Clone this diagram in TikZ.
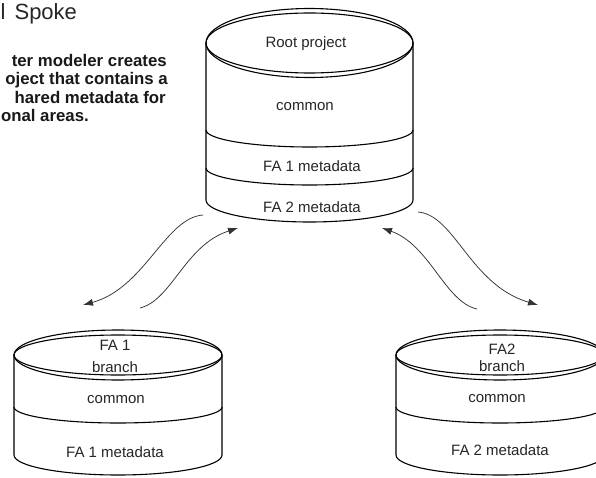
\documentclass[tikz,border=0pt]{standalone}
\usepackage{fontspec}
\setmainfont{Liberation Sans}
\usetikzlibrary{arrows.meta}
\begin{document}
\begin{tikzpicture}[x=1pt,y=-1pt,
  cyl/.style={line width=1.1pt, black},
  lbl/.style={font=\fontsize{15}{16}\selectfont, inner sep=0pt, text=black!85},
  arr/.style={line width=0.75pt, black!80, -{Latex[length=10pt,width=7pt]}},
  body/.style={font=\bfseries\fontsize{16.8}{19}\selectfont, inner sep=0pt, anchor=base east, text=black!90},
  title/.style={font=\fontsize{22}{24}\selectfont, inner sep=0pt, anchor=base west, text=black!85}
]
\useasboundingbox (0,0) rectangle (596,478);
\fill[white] (0,0) rectangle (596,478);

% ---- left text block ----
\node[title] (ttl) at (0.5,20) {l\hspace{9pt}Spoke};
\node[body] (l1) at (167,67) {ter modeler creates};
\node[body] (l2) at (168,85) {oject that contains a};
\node[body] (l3) at (166,103.5) {hared metadata for};
\node[body] (l4) at (89,122) {onal areas.};

% ---- root cylinder ----
\draw[cyl] (309.5,43) ellipse [x radius=103.5, y radius=34.5];
\draw[cyl] (309.5,43) ellipse [x radius=103.5, y radius=30];
\draw[cyl] (206,43) -- (206,200) arc[start angle=180, end angle=0, x radius=103.5, y radius=22] -- (413,43);
\draw[cyl] (206,130) arc[start angle=180, end angle=0, x radius=103.5, y radius=17];
\draw[cyl] (206,168) arc[start angle=180, end angle=0, x radius=103.5, y radius=17];
\node[lbl] (rootlbl) at (306,44) {Root project};
\node[lbl] (rootcommon) at (305,107) {common};
\node[lbl] (rootfa1) at (312,166) {FA 1 metadata};
\node[lbl] (rootfa2) at (312,207) {FA 2 metadata};

% ---- FA 1 branch cylinder ----
\draw[cyl] (118,355) ellipse [x radius=104, y radius=25];
\draw[cyl] (118,355) ellipse [x radius=104, y radius=20];
\draw[cyl] (14,355) -- (14,455) arc[start angle=180, end angle=0, x radius=104, y radius=20] -- (222,355);
\draw[cyl] (14,407) arc[start angle=180, end angle=0, x radius=104, y radius=16];
\node[lbl] (b1a) at (115,345) {FA 1};
\node[lbl] (b1b) at (115,367) {branch};
\node[lbl] (b1c) at (116,400) {common};
\node[lbl] (b1d) at (115,452) {FA 1 metadata};

% ---- FA 2 branch cylinder ----
\draw[cyl] (500,355) ellipse [x radius=104, y radius=25];
\draw[cyl] (500,355) ellipse [x radius=104, y radius=20];
\draw[cyl] (396,355) -- (396,455) arc[start angle=180, end angle=0, x radius=104, y radius=20] -- (604,355);
\draw[cyl] (396,407) arc[start angle=180, end angle=0, x radius=104, y radius=16];
\node[lbl] (b2a) at (502,349) {FA2};
\node[lbl] (b2b) at (502,366) {branch};
\node[lbl] (b2c) at (497,399) {common};
\node[lbl] (b2d) at (500,450) {FA 2 metadata};

% ---- arrows ----
\coordinate (aS) at (203,215);  \coordinate (aE) at (83,305);
\coordinate (bS) at (140,308);  \coordinate (bE) at (238,228);
\coordinate (cS) at (418,212);  \coordinate (cE) at (538,305);
\coordinate (dS) at (477,309);  \coordinate (dE) at (382,228);
\draw[arr] (aS) .. controls (165,218) and (145,288) .. (aE);
\draw[arr] (bS) .. controls (172,300) and (185,245) .. (bE);
\draw[arr] (cS) .. controls (455,215) and (470,285) .. (cE);
\draw[arr] (dS) .. controls (445,302) and (430,245) .. (dE);
\end{tikzpicture}
\end{document}
